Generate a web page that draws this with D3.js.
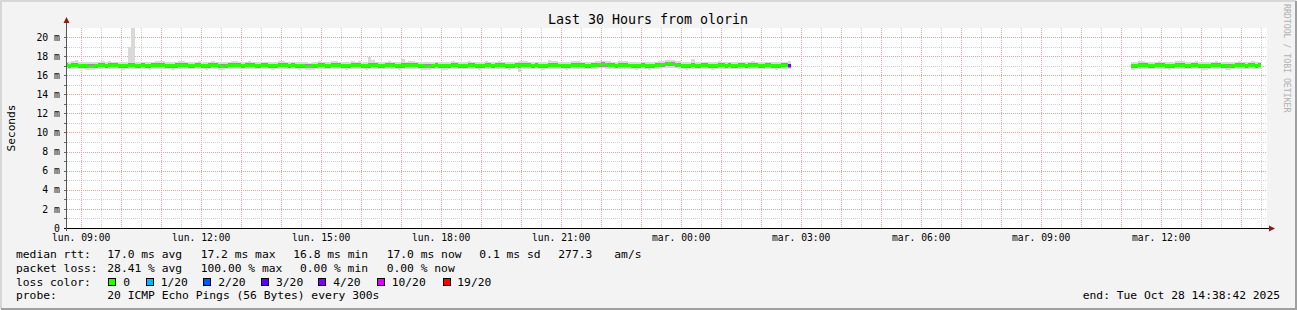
<!DOCTYPE html>
<html><head><meta charset="utf-8">
<script src="https://cdn.jsdelivr.net/npm/d3@7"></script>
<style>
html,body{margin:0;padding:0;background:#f3f3f3;}
svg{display:block;}
text{font-family:"DejaVu Sans Mono",monospace;}
</style></head>
<body>
<svg id="chart" width="1297" height="310"></svg>
<script>
// ---------------- DATA ----------------
const titleText = "Last 30 Hours from olorin";
const yAxisTitle = "Seconds";
const watermark = "RRDTOOL / TOBI OETIKER";
const graphStart = [2025, 9, 27, 8, 38, 42];   // Mon Oct 27 2025 08:38:42
const graphEnd   = [2025, 9, 28, 14, 38, 42];  // Tue Oct 28 2025 14:38:42
const yMaxMs = 20.94;
const yMajorTicks = [0, 2, 4, 6, 8, 10, 12, 14, 16, 18, 20];
const yMinorTicks = [1, 3, 5, 7, 9, 11, 13, 15, 17, 19];
const dayAbbr = ["dim.", "lun.", "mar.", "mer.", "jeu.", "ven.", "sam."];
const stepSeconds = 300;
// two data segments (bin end times), with the 100% loss gap between
const segStarts = [[2025, 9, 27, 8, 40, 0], [2025, 9, 28, 11, 20, 0]];
const segLengths = [218, 39];

const medianRtt = [
17.02,17.00,17.03,17.01,16.99,17.00,16.97,16.95,16.96,17.00,17.01,17.02,
17.00,17.01,17.03,17.02,17.00,16.98,17.00,17.02,17.01,16.99,17.00,17.01,
17.00,16.98,17.02,17.05,17.06,17.03,17.00,16.99,16.97,17.00,17.04,17.05,
17.02,17.00,16.99,17.01,17.03,17.00,16.98,17.00,17.02,17.01,16.98,16.96,
16.99,17.01,17.03,17.04,17.02,17.00,17.01,17.03,17.02,17.00,16.99,17.01,
17.02,17.00,16.98,17.00,17.03,17.05,17.02,17.00,17.01,16.99,16.97,17.00,
16.95,16.93,16.97,17.00,17.02,17.01,16.99,17.00,17.02,17.03,17.01,17.00,
16.98,17.00,17.02,17.01,17.03,17.00,16.97,17.00,17.02,17.01,17.00,16.99,
17.01,17.03,17.02,17.00,16.98,17.00,17.02,17.04,17.05,17.02,16.99,16.97,
16.95,16.96,16.99,17.01,17.00,16.98,16.97,17.00,17.02,17.01,17.00,16.99,
17.00,17.02,17.01,16.99,16.98,17.00,17.03,17.02,17.00,17.01,17.03,17.02,
17.00,16.98,16.99,17.01,17.03,17.05,17.04,17.02,17.00,17.01,16.99,16.98,
17.00,17.02,17.04,17.03,17.01,17.00,16.98,17.00,17.03,17.06,17.04,17.02,
17.00,16.99,17.02,17.05,17.08,17.10,17.07,17.04,17.02,17.00,17.03,17.05,
17.04,17.01,16.99,16.97,17.00,17.02,17.00,16.98,16.99,17.02,17.05,17.08,
17.12,17.18,17.15,17.10,17.06,17.00,16.98,17.00,17.02,17.00,16.99,17.01,
17.02,17.00,16.98,17.00,17.03,17.02,17.00,17.01,16.99,17.00,17.02,17.01,
17.00,17.02,17.03,17.01,16.99,17.00,17.02,17.01,17.00,16.98,17.00,17.02,
17.01,17.00,
16.98,17.00,17.02,17.03,17.01,17.00,16.99,17.01,17.03,17.02,17.00,16.98,
17.00,17.02,17.04,17.03,17.00,16.99,17.01,17.02,17.00,16.98,16.97,17.00,
17.02,17.03,17.01,17.00,16.98,16.96,16.99,17.01,17.03,17.02,17.00,17.01,
17.02,17.00,17.01
];

const smokeMax = [
17.42,17.38,17.45,17.55,17.40,17.36,17.35,17.33,17.38,17.42,17.40,17.44,
17.40,17.45,17.42,17.38,17.41,17.37,17.40,19.00,21.50,17.36,17.40,17.43,
17.41,17.36,17.43,17.48,17.50,17.44,17.40,17.38,17.35,17.42,17.46,17.47,
17.43,17.39,17.37,17.42,17.45,17.40,17.36,17.41,17.44,17.42,17.38,17.35,
17.39,17.42,17.46,17.47,17.43,17.40,17.42,17.45,17.41,17.39,17.37,17.42,
17.43,17.39,17.37,17.41,17.46,17.48,17.42,17.40,17.42,17.38,17.36,17.41,
17.34,17.32,17.37,17.41,17.44,17.42,17.39,17.41,17.44,17.45,17.41,17.40,
17.38,17.41,17.44,17.42,17.45,17.40,17.37,17.90,17.62,17.42,17.40,17.39,
17.42,17.45,17.43,17.40,17.38,17.65,17.43,17.46,17.48,17.43,17.39,17.37,
17.35,17.36,17.40,17.43,17.41,17.38,17.37,17.41,17.44,17.42,17.40,17.39,
17.41,17.44,17.42,17.39,17.38,17.41,17.45,17.43,17.40,17.42,17.45,17.43,
17.40,17.38,17.39,17.42,17.45,17.48,17.46,17.43,17.41,17.42,17.39,17.38,
17.41,17.62,17.45,17.44,17.41,17.40,17.38,17.41,17.44,17.48,17.45,17.43,
17.40,17.39,17.43,17.47,17.50,17.52,17.48,17.45,17.43,17.40,17.44,17.47,
17.45,17.41,17.39,17.36,17.40,17.43,17.40,17.38,17.39,17.43,17.47,17.50,
17.55,17.60,17.57,17.52,17.47,17.41,17.38,17.40,17.72,17.41,17.39,17.42,
17.43,17.40,17.38,17.41,17.44,17.43,17.40,17.42,17.39,17.41,17.43,17.42,
17.40,17.43,17.44,17.42,17.39,17.41,17.43,17.42,17.40,17.38,17.41,17.43,
17.42,17.44,
17.38,17.41,17.44,17.45,17.42,17.40,17.39,17.43,17.45,17.43,17.41,17.38,
17.41,17.44,17.46,17.45,17.40,17.39,17.42,17.44,17.41,17.38,17.37,17.41,
17.43,17.45,17.42,17.40,17.38,17.36,17.39,17.42,17.45,17.43,17.41,17.42,
17.44,17.40,17.42
];

const smokeMin = [
16.64,16.61,16.66,16.62,16.60,16.62,16.58,16.55,16.57,16.61,16.63,16.64,
16.62,16.63,16.65,16.63,16.61,16.59,16.62,16.64,16.62,16.60,16.62,16.63,
16.61,16.59,16.64,16.67,16.68,16.64,16.61,16.60,16.58,16.62,16.66,16.67,
16.63,16.61,16.60,16.63,16.65,16.61,16.59,16.62,16.64,16.62,16.59,16.57,
16.60,16.63,16.65,16.66,16.63,16.61,16.63,16.65,16.63,16.61,16.60,16.63,
16.64,16.61,16.59,16.62,16.65,16.67,16.63,16.61,16.63,16.60,16.58,16.62,
16.56,16.54,16.59,16.62,16.64,16.62,16.60,16.62,16.64,16.65,16.62,16.61,
16.59,16.62,16.64,16.62,16.65,16.61,16.58,16.62,16.64,16.62,16.61,16.60,
16.63,16.65,16.63,16.61,16.59,16.62,16.64,16.66,16.67,16.63,16.60,16.58,
16.56,16.57,16.61,16.63,16.62,16.59,16.58,16.62,16.64,16.62,16.61,16.60,
16.62,16.64,16.62,16.60,16.59,16.62,16.65,16.63,16.61,16.63,16.65,16.63,
16.61,16.59,16.60,16.63,16.30,16.67,16.66,16.63,16.61,16.63,16.60,16.59,
16.62,16.64,16.66,16.64,16.62,16.61,16.59,16.62,16.65,16.68,16.65,16.63,
16.61,16.60,16.64,16.67,16.70,16.72,16.68,16.65,16.63,16.61,16.65,16.67,
16.65,16.62,16.60,16.58,16.62,16.64,16.61,16.59,16.60,16.64,16.67,16.70,
16.74,16.80,16.76,16.71,16.67,16.61,16.59,16.62,16.64,16.61,16.60,16.63,
16.64,16.61,16.59,16.62,16.65,16.63,16.61,16.63,16.60,16.62,16.64,16.62,
16.61,16.64,16.65,16.62,16.60,16.62,16.64,16.62,16.61,16.59,16.62,16.64,
16.62,16.61,
16.59,16.62,16.64,16.65,16.62,16.61,16.60,16.63,16.65,16.63,16.61,16.59,
16.62,16.64,16.66,16.64,16.61,16.60,16.63,16.64,16.61,16.59,16.58,16.62,
16.64,16.65,16.62,16.61,16.59,16.57,16.60,16.63,16.65,16.63,16.61,16.63,
16.64,16.61,16.63
];

const innerHi = [
17.24,17.21,17.27,17.23,17.20,17.22,17.18,17.16,17.19,17.22,17.24,17.23,
17.22,17.23,17.26,17.24,17.21,17.19,17.22,17.25,17.23,17.20,17.22,17.24,
17.21,17.19,17.25,17.28,17.29,17.25,17.22,17.20,17.18,17.23,17.27,17.28,
17.24,17.21,17.20,17.23,17.26,17.22,17.19,17.23,17.25,17.23,17.19,17.17,
17.20,17.23,17.26,17.27,17.24,17.21,17.23,17.26,17.24,17.21,17.20,17.23,
17.25,17.21,17.19,17.22,17.26,17.28,17.24,17.21,17.23,17.20,17.18,17.22,
17.16,17.14,17.19,17.22,17.25,17.23,17.20,17.22,17.25,17.26,17.23,17.22,
17.19,17.22,17.25,17.23,17.26,17.21,17.18,17.30,17.25,17.23,17.22,17.20,
17.23,17.26,17.24,17.22,17.20,17.28,17.25,17.27,17.28,17.24,17.20,17.18,
17.16,17.17,17.21,17.24,17.22,17.19,17.18,17.22,17.25,17.23,17.22,17.20,
17.22,17.25,17.23,17.20,17.19,17.22,17.26,17.24,17.21,17.23,17.26,17.24,
17.21,17.19,17.20,17.23,17.26,17.28,17.27,17.24,17.21,17.23,17.20,17.19,
17.22,17.30,17.27,17.25,17.22,17.21,17.19,17.22,17.26,17.29,17.26,17.24,
17.21,17.20,17.24,17.28,17.31,17.33,17.29,17.26,17.24,17.21,17.25,17.28,
17.26,17.22,17.20,17.18,17.22,17.24,17.21,17.19,17.20,17.24,17.28,17.31,
17.35,17.41,17.37,17.32,17.28,17.22,17.19,17.22,17.30,17.22,17.20,17.23,
17.24,17.21,17.19,17.22,17.26,17.24,17.21,17.23,17.20,17.22,17.24,17.23,
17.21,17.24,17.26,17.23,17.20,17.22,17.24,17.23,17.21,17.19,17.22,17.24,
17.23,17.22,
17.19,17.22,17.24,17.26,17.23,17.21,17.20,17.23,17.26,17.24,17.22,17.19,
17.22,17.24,17.27,17.25,17.21,17.20,17.23,17.24,17.22,17.19,17.18,17.22,
17.24,17.26,17.23,17.21,17.19,17.17,17.20,17.23,17.26,17.24,17.21,17.23,
17.24,17.21,17.23
];

const innerLo = [
16.82,16.80,16.83,16.81,16.79,16.80,16.77,16.75,16.76,16.80,16.81,16.82,
16.80,16.81,16.83,16.82,16.80,16.78,16.80,16.82,16.81,16.79,16.80,16.81,
16.80,16.78,16.82,16.85,16.86,16.83,16.80,16.79,16.77,16.80,16.84,16.85,
16.82,16.80,16.79,16.81,16.83,16.80,16.78,16.80,16.82,16.81,16.78,16.76,
16.79,16.81,16.83,16.84,16.82,16.80,16.81,16.83,16.82,16.80,16.79,16.81,
16.82,16.80,16.78,16.80,16.83,16.85,16.82,16.80,16.81,16.79,16.77,16.80,
16.75,16.73,16.77,16.80,16.82,16.81,16.79,16.80,16.82,16.83,16.81,16.80,
16.78,16.80,16.82,16.81,16.83,16.80,16.77,16.80,16.82,16.81,16.80,16.79,
16.81,16.83,16.82,16.80,16.78,16.80,16.82,16.84,16.85,16.82,16.79,16.77,
16.75,16.76,16.79,16.81,16.80,16.78,16.77,16.80,16.82,16.81,16.80,16.79,
16.80,16.82,16.81,16.79,16.78,16.80,16.83,16.82,16.80,16.81,16.83,16.82,
16.80,16.78,16.79,16.81,16.70,16.85,16.84,16.82,16.80,16.81,16.79,16.78,
16.80,16.82,16.84,16.83,16.81,16.80,16.78,16.80,16.83,16.86,16.84,16.82,
16.80,16.79,16.82,16.85,16.88,16.90,16.87,16.84,16.82,16.80,16.83,16.85,
16.84,16.81,16.79,16.77,16.80,16.82,16.80,16.78,16.79,16.82,16.85,16.88,
16.92,16.98,16.95,16.90,16.86,16.80,16.78,16.80,16.82,16.80,16.79,16.81,
16.82,16.80,16.78,16.80,16.83,16.82,16.80,16.81,16.79,16.80,16.82,16.81,
16.80,16.82,16.83,16.81,16.79,16.80,16.82,16.81,16.80,16.78,16.80,16.82,
16.81,16.80,
16.78,16.80,16.82,16.83,16.81,16.80,16.79,16.81,16.83,16.82,16.80,16.78,
16.80,16.82,16.84,16.83,16.80,16.79,16.81,16.82,16.80,16.78,16.77,16.80,
16.82,16.83,16.81,16.80,16.78,16.76,16.79,16.81,16.83,16.82,16.80,16.81,
16.82,16.80,16.81
];

// lost pings (of 20) per bin
const lossCount = [
0,0,0,0,0,0,0,0,0,0,0,0, 0,0,0,0,0,0,0,0,0,0,0,0, 0,0,0,0,0,0,0,0,0,0,0,0,
0,0,0,0,0,0,0,0,0,0,0,0, 0,0,0,0,0,0,0,0,0,0,0,0, 0,0,0,0,0,0,0,0,0,0,0,0,
0,0,0,0,0,0,0,0,0,0,0,0, 0,0,0,0,0,0,0,0,0,0,0,0, 0,0,0,0,0,0,0,0,0,0,0,0,
0,0,0,0,0,0,0,0,0,0,0,0, 0,0,0,0,0,0,0,0,0,0,0,0, 0,0,0,0,0,0,0,0,0,0,0,0,
0,0,0,0,0,0,0,0,0,0,0,0, 0,0,0,0,0,0,0,0,0,0,0,0, 0,0,0,0,0,0,0,0,0,0,0,0,
0,0,0,0,0,0,0,0,0,0,0,0, 0,0,0,0,0,0,0,0,0,0,0,0, 0,0,0,0,0,0,0,0,0,0,0,0,
0,4,
0,0,0,0,0,0,0,0,0,0,0,0, 0,0,0,0,0,0,0,0,0,0,0,0, 0,0,0,0,0,0,0,0,0,0,0,0,
0,0,0
];

const lossLabels = ["0", "1/20", "2/20", "3/20", "4/20", "10/20", "19/20"];
const lossThresholds = [0, 1, 2, 3, 4, 10, 19];
const lossColors = ["#26ff00", "#00b8ff", "#0059ff", "#5e00ff", "#7e00ff", "#dd00ff", "#ff0000"];

const legendRows = [
  ["median rtt:", "17.0 ms avg", "17.2 ms max", "16.8 ms min", "17.0 ms now", "0.1 ms sd", "277.3", "am/s"],
  ["packet loss:", "28.41 % avg", "100.00 % max", "0.00 % min", "0.00 % now"],
  ["probe:", "20 ICMP Echo Pings (56 Bytes) every 300s"]
];
const endText = "end: Tue Oct 28 14:38:42 2025";

// ---------------- LAYOUT ----------------
const W = 1297, H = 310;
const plot = {left: 67, right: 1267, top: 28, bottom: 228};

const svg = d3.select("#chart");
const mkDate = a => new Date(a[0], a[1], a[2], a[3], a[4], a[5]);
const t0 = mkDate(graphStart), t1 = mkDate(graphEnd);

const x = d3.scaleTime().domain([t0, t1]).range([plot.left, plot.right]);
const y = d3.scaleLinear().domain([0, yMaxMs]).range([plot.bottom, plot.top]);

// frame
svg.append("rect").attr("x", 0).attr("y", 0).attr("width", W).attr("height", H).attr("fill", "#f3f3f3");
svg.append("path").attr("d", `M1,${H-1}V1H${W-1}`).attr("fill", "none").attr("stroke", "#d6d6d6").attr("stroke-width", 2);
svg.append("path").attr("d", `M1,${H-1}H${W-1}V1`).attr("fill", "none").attr("stroke", "#a0a0a0").attr("stroke-width", 2);

// plot bg
svg.append("rect").attr("x", plot.left).attr("y", plot.top)
  .attr("width", plot.right - plot.left).attr("height", plot.bottom - plot.top).attr("fill", "#ffffff");

// grid
const grid = svg.append("g").attr("shape-rendering", "crispEdges");
const minorX = d3.timeMinute.every(30).range(t0, t1).filter(d => d.getMinutes() === 30);
const majorX = d3.timeHour.every(1).range(t0, t1);
grid.selectAll(".gxm").data(minorX).join("line")
  .attr("x1", d => Math.round(x(d)) + 0.5).attr("x2", d => Math.round(x(d)) + 0.5)
  .attr("y1", plot.top).attr("y2", plot.bottom)
  .attr("stroke", "#cfcfcf").attr("stroke-dasharray", "1,1");
grid.selectAll(".gym").data(yMinorTicks).join("line")
  .attr("x1", plot.left).attr("x2", plot.right)
  .attr("y1", d => Math.round(y(d)) + 0.5).attr("y2", d => Math.round(y(d)) + 0.5)
  .attr("stroke", "#cfcfcf").attr("stroke-dasharray", "1,1");
grid.selectAll(".gxM").data(majorX).join("line")
  .attr("x1", d => Math.round(x(d)) + 0.5).attr("x2", d => Math.round(x(d)) + 0.5)
  .attr("y1", plot.top).attr("y2", plot.bottom)
  .attr("stroke", "#f4a3a3").attr("stroke-dasharray", "1,1");
grid.selectAll(".gyM").data(yMajorTicks.filter(v => v > 0)).join("line")
  .attr("x1", plot.left).attr("x2", plot.right)
  .attr("y1", d => Math.round(y(d)) + 0.5).attr("y2", d => Math.round(y(d)) + 0.5)
  .attr("stroke", "#f4a3a3").attr("stroke-dasharray", "1,1");

// data
const bins = [];
let idx = 0;
segStarts.forEach((s, si) => {
  const start = mkDate(s);
  for (let k = 0; k < segLengths[si]; k++, idx++) {
    const tEnd = new Date(start.getTime() + k * stepSeconds * 1000);
    const tBeg = new Date(tEnd.getTime() - stepSeconds * 1000);
    bins.push({tBeg, tEnd, med: medianRtt[idx], mx: smokeMax[idx], mn: smokeMin[idx],
               ih: innerHi[idx], il: innerLo[idx], loss: lossCount[idx]});
  }
});
svg.append("clipPath").attr("id", "clip").append("rect")
  .attr("x", plot.left).attr("y", plot.top)
  .attr("width", plot.right - plot.left).attr("height", plot.bottom - plot.top);
const dataG = svg.append("g").attr("clip-path", "url(#clip)").attr("shape-rendering", "crispEdges");
const bx = d => Math.round(Math.max(plot.left, x(d.tBeg)));
const bw = d => Math.round(Math.min(plot.right, x(d.tEnd))) - bx(d);
dataG.selectAll(".smo").data(bins).join("rect")
  .attr("x", bx).attr("width", bw)
  .attr("y", d => Math.round(y(d.mx))).attr("height", d => Math.round(y(d.mn)) - Math.round(y(d.mx)))
  .attr("fill", "#d9d9d9");
dataG.selectAll(".smi").data(bins).join("rect")
  .attr("x", bx).attr("width", bw)
  .attr("y", d => Math.round(y(d.ih))).attr("height", d => Math.round(y(d.il)) - Math.round(y(d.ih)))
  .attr("fill", "#959595");
const lossColor = l => { let c = lossColors[0]; lossThresholds.forEach((t, i) => { if (l >= t) c = lossColors[i]; }); return c; };
dataG.selectAll(".med").data(bins).join("rect")
  .attr("x", bx).attr("width", bw)
  .attr("y", d => Math.round(y(d.med) - 1.5)).attr("height", 3)
  .attr("fill", d => lossColor(d.loss));

// axes
const ax = svg.append("g").attr("shape-rendering", "crispEdges");
ax.selectAll(".ytk").data(yMajorTicks.concat(yMinorTicks)).join("line")
  .attr("x1", plot.left - 3).attr("x2", plot.left)
  .attr("y1", d => Math.round(y(d)) + 0.5).attr("y2", d => Math.round(y(d)) + 0.5)
  .attr("stroke", "#666");
ax.append("line").attr("x1", plot.left - 3).attr("x2", plot.right + 4)
  .attr("y1", plot.bottom + 0.5).attr("y2", plot.bottom + 0.5).attr("stroke", "#000");
ax.append("line").attr("x1", plot.left - 0.5).attr("x2", plot.left - 0.5)
  .attr("y1", plot.bottom + 3).attr("y2", plot.top - 5).attr("stroke", "#555");
svg.append("path").attr("d", `M${plot.right + 2},${plot.bottom - 2.5}L${plot.right + 8},${plot.bottom + 0.5}L${plot.right + 2},${plot.bottom + 3.5}Z`)
  .attr("fill", "#8b1a1a");
svg.append("path").attr("d", `M${plot.left - 3.5},${plot.top - 5}L${plot.left - 0.5},${plot.top - 11}L${plot.left + 2.5},${plot.top - 5}Z`)
  .attr("fill", "#8b1a1a");

const txt = svg.append("g");

// y labels
txt.selectAll(".ylab").data(yMajorTicks).join("text")
  .attr("x", 60).attr("y", d => y(d) + 3.7)
  .attr("text-anchor", "end").attr("font-size", "9.8px").attr("fill", "#000")
  .text(d => d === 0 ? "0" : d + " m");

// x labels
const labelTicks = d3.timeHour.every(3).range(t0, t1);
const hm = d3.timeFormat("%H:%M");
txt.selectAll(".xlab").data(labelTicks).join("text")
  .attr("x", d => x(d)).attr("y", 241.3)
  .attr("text-anchor", "middle").attr("font-size", "9.7px").attr("fill", "#000")
  .text(d => dayAbbr[d.getDay()] + " " + hm(d));

// title
txt.append("text").attr("x", 648).attr("y", 24).attr("text-anchor", "middle")
  .attr("font-size", "13.3px").attr("fill", "#000").text(titleText);
// y axis title
txt.append("text").attr("transform", "translate(14.5,128) rotate(-90)")
  .attr("text-anchor", "middle").attr("font-size", "11.2px").attr("fill", "#000").text(yAxisTitle);
// watermark
txt.append("text").attr("transform", "translate(1284,4) rotate(90)")
  .attr("font-size", "8.2px").attr("fill", "#b0b0b0").text(watermark);

// legend
const legX = [
  [16, 107.3, 200.7, 293.3, 386.7, 479.3, 558.3, 614.3],
  [16, 107.3, 200.7, 300, 386.7],
  [16, 107.3]
];
const legY = [257.5, 271.5, 299.4];
const lg = txt.append("g").attr("font-size", "11.3px").attr("fill", "#000");
legendRows.forEach((row, r) => {
  row.forEach((s, c) => {
    lg.append("text").attr("x", legX[r][c]).attr("y", legY[r]).text(s);
  });
});
lg.append("text").attr("x", 16).attr("y", 285.5).text("loss color:");
const boxX = [108.5, 146, 203.5, 261, 318.5, 377, 443.5];
const txtX = [123.3, 160.7, 218.3, 276, 333.3, 391.7, 457.3];
lossLabels.forEach((lab, i) => {
  svg.append("rect").attr("x", boxX[i]).attr("y", 278.5).attr("width", 7).attr("height", 7)
    .attr("fill", lossColors[i]).attr("stroke", "#000").attr("stroke-width", 1).attr("shape-rendering", "crispEdges");
  lg.append("text").attr("x", txtX[i]).attr("y", 285.5).text(lab);
});
lg.append("text").attr("x", 1280).attr("y", 299.4).attr("text-anchor", "end").text(endText);
</script>
</body></html>
